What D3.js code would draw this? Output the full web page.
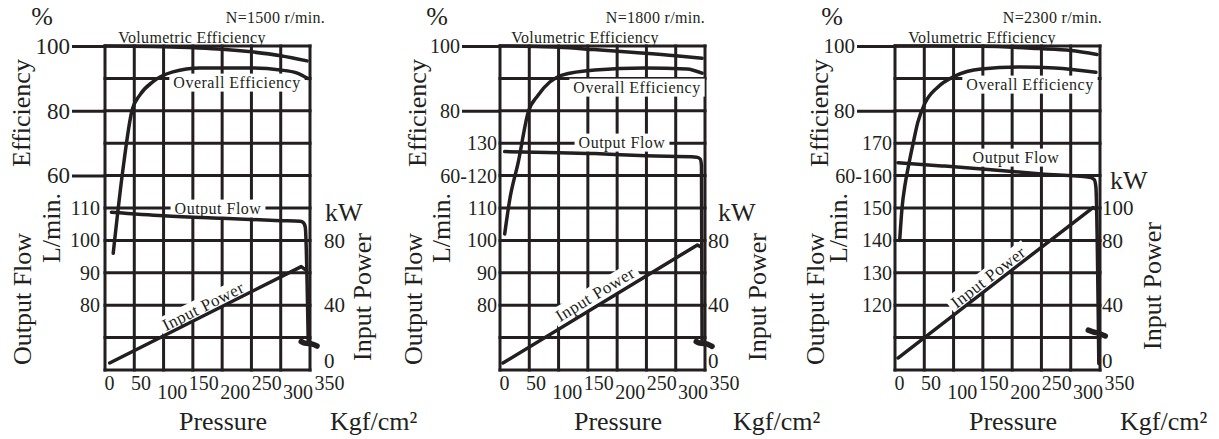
<!DOCTYPE html>
<html>
<head>
<meta charset="utf-8">
<script src="https://cdn.jsdelivr.net/npm/d3@7"></script>
<style>
body { margin: 0; background: #fff; }
svg text { font-family: "Liberation Serif", "Times New Roman", Times, "DejaVu Serif", serif; fill: #231f20; }
</style>
</head>
<body>
<svg id="chart" width="1219" height="439"></svg>
<script>
// speeds, one panel each
var speeds = ["N=1500 r/min.", "N=1800 r/min.", "N=2300 r/min."];
var pressureTicks = [0, 50, 100, 150, 200, 250, 300, 350];
var effGrid = [0, 10, 20, 30, 40, 50, 60, 70, 80, 90, 100];

// tick labels
var effTicks = [[100, 80, 60], [100, 80], [100, 80]];
var flowDomains = [[60, 160], [60, 160], [100, 200]];
var flowTicks = [[110, 100, 90, 80], [130, 120, 110, 100, 90, 80], [170, 160, 150, 140, 130, 120]];
var flowTickText = [["110", "100", "90", "80"], ["130", "60-120", "110", "100", "90", "80"], ["170", "60-160", "150", "140", "130", "120"]];
var powerTicks = [[80, 40, 0], [80, 40, 0], [100, 80, 40, 0]];

// [pressure kgf/cm2, volumetric efficiency %]
var volEff1500 = [[0, 100], [100, 99.8], [160, 99.4], [200, 99], [250, 98.2], [300, 97], [345, 95.4]];
var volEff1800 = [[0, 100], [100, 99.6], [160, 98.9], [230, 98], [300, 97], [345, 96.2]];
var volEff2300 = [[0, 100], [150, 99.9], [245, 99.2], [300, 98.6], [345, 97.4]];

// [pressure, overall efficiency %]
var overall1500 = [[14, 36], [30, 61], [46, 80], [60, 85], [82, 89], [116, 92], [162, 93.2], [247, 93.2], [299, 92.6], [327, 91.7], [346, 90]];
var overall1800 = [[8, 42], [17, 53], [31, 64], [48, 79.5], [65, 84.8], [85, 88.9], [106, 91], [162, 92.6], [247, 93.2], [319, 92.9], [345, 91.6]];
var overall2300 = [[8, 40], [12, 50], [17, 57], [22, 62], [31, 70], [39, 76.5], [51, 82.3], [73, 87.3], [102, 90.7], [147, 92.9], [215, 93.5], [273, 93.2], [343, 91.9]];

// [pressure, output flow L/min]
var flow1500 = [[11, 108.7], [100, 107.6], [200, 106.8], [300, 106.1], [333, 105.9], [339, 105.4], [342, 104], [347, 68.5]];
var flow1800 = [[8, 127.4], [162, 126.8], [250, 126.1], [336, 125.7], [342, 125.1], [344, 123], [345, 68.5]];
var flow2300 = [[5, 164], [80, 163], [159, 161.9], [250, 160.5], [332, 159.5], [340, 158.8], [343, 156.5], [348, 102]];

// little hook at the bottom of the flow drop
var tail1500 = [[335, 68.8], [341, 68.3], [354, 68], [362, 67.4]];
var tail1800 = [[335, 68.8], [341, 68.3], [354, 68], [362, 67.3]];
var tail2300 = [[330, 112.3], [338, 111.8], [350, 111.2], [359, 110.5]];

// [pressure, input power kW]
var power1500 = [[8, 4.3], [335, 63.8], [342, 62]];
var power1800 = [[5, 4.3], [337, 77.2], [343, 76]];
var power2300 = [[5, 7.4], [338, 100.3], [342, 99.5]];

var volEff = [volEff1500, volEff1800, volEff2300];
var overall = [overall1500, overall1800, overall2300];
var flows = [flow1500, flow1800, flow2300];
var tails = [tail1500, tail1800, tail2300];
var powers = [power1500, power1800, power2300];

// layout bits per panel, all px
var layout = [
    {left: 105, effTick: 33, effFont: 23, flowPad: 5, powerPad: 14, nEnd: 15, kwX: 15, kgfX: 20,
     effTitleX: -84, flowTitleX: -83, lminX: -54, powerTitleY: 297,
     vol: [87, 37], over: [132, 82], outFlow: [113, 208], inPower: [98, 306]},
    {left: 500, effTick: 38, effFont: 20, flowPad: 3, powerPad: 3, nEnd: 0, kwX: 13, kgfX: 28,
     effTitleX: -83, flowTitleX: -87, lminX: -59, powerTitleY: 297,
     vol: [85, 37], over: [137, 87], outFlow: [122, 142], inPower: [95, 294]},
    {left: 895, effTick: 38, effFont: 21, flowPad: 3, powerPad: 2, nEnd: 2, kwX: 10, kgfX: 20,
     effTitleX: -76, flowTitleX: -80, lminX: -57, powerTitleY: 286,
     vol: [87, 37], over: [135, 84], outFlow: [121, 157], inPower: [93, 277]}
];

var W = 205, TOP = 46, BOTTOM = 370;
var ink = "#231f20";

var svg = d3.select("#chart");
var gridLayer = svg.append("g");
var bgLayer = svg.append("g");
var curveLayer = svg.append("g");
var textLayer = svg.append("g");

function addText(txt, cx, cy, size, angle, opts) {
    opts = opts || {};
    var g = textLayer.append("g")
        .attr("transform", "translate(" + cx + "," + cy + ") rotate(" + (angle || 0) + ")");
    var t = g.append("text")
        .attr("text-anchor", opts.anchor || "middle")
        .attr("dy", opts.dy != null ? opts.dy : "0.35em")
        .attr("font-size", size)
        .attr("letter-spacing", opts.spacing || 0)
        .text(txt);
    if (opts.bg) {
        var b = t.node().getBBox();
        bgLayer.append("rect")
            .attr("transform", "translate(" + cx + "," + cy + ") rotate(" + (angle || 0) + ")")
            .attr("x", b.x - 4).attr("y", b.y)
            .attr("width", b.width + 8).attr("height", b.height)
            .attr("fill", "#fff");
    }
    return t;
}

layout.forEach(function(cfg, i) {
    var L = cfg.left, R = L + W;
    var x = d3.scaleLinear().domain([0, 350]).range([L, R]);
    var xLab = d3.scaleLinear().domain([0, 350]).range([L + 4, R + 19]);
    var yEff = d3.scaleLinear().domain([0, 100]).range([BOTTOM, TOP]);
    var yFlow = d3.scaleLinear().domain(flowDomains[i]).range([BOTTOM, TOP]);
    var yPow = d3.scaleLinear().domain([0, 200]).range([BOTTOM, TOP]);

    // grid
    var grid = gridLayer.append("g")
        .attr("stroke", ink).attr("stroke-width", 3).attr("stroke-linecap", "square");
    grid.selectAll("line.v").data(pressureTicks).enter().append("line")
        .attr("x1", function(d) { return x(d); })
        .attr("x2", function(d) { return x(d); })
        .attr("y1", TOP).attr("y2", BOTTOM);
    grid.selectAll("line.h").data(effGrid).enter().append("line")
        .attr("y1", function(d) { return yEff(d); })
        .attr("y2", function(d) { return yEff(d); })
        .attr("x1", L).attr("x2", R);

    // efficiency axis, ticks stick out to the left
    var effAxis = gridLayer.append("g")
        .attr("transform", "translate(" + L + ",0)")
        .call(d3.axisLeft(yEff).tickValues(effTicks[i]).tickSize(cfg.effTick).tickPadding(2));
    effAxis.select(".domain").remove();
    effAxis.selectAll("line").attr("stroke", ink).attr("stroke-width", 3);
    effAxis.selectAll("text").attr("font-size", cfg.effFont);

    var flowAxis = gridLayer.append("g")
        .attr("transform", "translate(" + L + ",0)")
        .call(d3.axisLeft(yFlow).tickValues(flowTicks[i])
            .tickFormat(function(d, j) { return flowTickText[i][j]; })
            .tickSize(0).tickPadding(cfg.flowPad));
    flowAxis.select(".domain").remove();
    flowAxis.selectAll("text").attr("font-size", 20);

    var powAxis = gridLayer.append("g")
        .attr("transform", "translate(" + R + ",0)")
        .call(d3.axisRight(yPow).tickValues(powerTicks[i]).tickSize(0).tickPadding(cfg.powerPad));
    powAxis.select(".domain").remove();
    powAxis.selectAll("text").attr("font-size", 21)
        .attr("y", function(d) { return d === 0 ? -9 : 0; });

    var pAxis = gridLayer.append("g")
        .attr("transform", "translate(0," + BOTTOM + ")")
        .call(d3.axisBottom(xLab).tickValues(pressureTicks).tickSize(0).tickPadding(5));
    pAxis.select(".domain").remove();
    pAxis.selectAll("text").attr("font-size", 20)
        .attr("y", function(d) { return (d % 100 === 0 && d > 0) ? 15 : 6; });

    // curves
    var lineEff = d3.line().x(function(d) { return x(d[0]); }).y(function(d) { return yEff(d[1]); }).curve(d3.curveMonotoneX);
    var lineFlow = d3.line().x(function(d) { return x(d[0]); }).y(function(d) { return yFlow(d[1]); }).curve(d3.curveMonotoneX);
    var linePow = d3.line().x(function(d) { return x(d[0]); }).y(function(d) { return yPow(d[1]); });

    [[lineEff, volEff[i]], [lineEff, overall[i]], [lineFlow, flows[i]], [linePow, powers[i]]].forEach(function(c) {
        curveLayer.append("path")
            .attr("d", c[0](c[1]))
            .attr("fill", "none").attr("stroke", ink)
            .attr("stroke-width", 3.5).attr("stroke-linejoin", "round").attr("stroke-linecap", "round");
    });
    curveLayer.append("path")
        .attr("d", lineFlow(tails[i]))
        .attr("fill", "none").attr("stroke", ink)
        .attr("stroke-width", 5.5).attr("stroke-linecap", "round");

    // labels on the curves
    addText("Volumetric Efficiency", L + cfg.vol[0], cfg.vol[1], 16, 0, {spacing: 0.3});
    addText("Overall Efficiency", L + cfg.over[0], cfg.over[1], 16, 0, {spacing: 0.5, bg: true});
    addText("Output Flow", L + cfg.outFlow[0], cfg.outFlow[1], 16, 0, {spacing: 0.5, bg: true});
    var p = powers[i];
    var ang = Math.atan2(yPow(p[1][1]) - yPow(p[0][1]), x(p[1][0]) - x(p[0][0])) * 180 / Math.PI;
    addText("Input Power", L + cfg.inPower[0], cfg.inPower[1], 17, ang, {spacing: 0.5, bg: true});

    // titles
    addText(speeds[i], R + cfg.nEnd, 23, 16, 0, {anchor: "end", dy: 0, spacing: 0.3});
    addText("%", L - 63, 25, 26, 0, {dy: 0});
    addText("Efficiency", L + cfg.effTitleX, 113, 26, -90);
    addText("Output Flow", L + cfg.flowTitleX, 299, 26, -90);
    addText("L/min.", L + cfg.lminX, 228, 26, -90);
    addText("kW", R + cfg.kwX, yPow(powerTicks[i][0]) - 19, 26, 0, {anchor: "start", dy: 0});
    addText("Input Power", R + 52, cfg.powerTitleY, 26, -90);
    addText("Pressure", L + 118, 430, 26, 0, {dy: 0});
    addText("Kgf/cm²", R + cfg.kgfX, 430, 26, 0, {anchor: "start", dy: 0});
});
</script>
</body>
</html>
